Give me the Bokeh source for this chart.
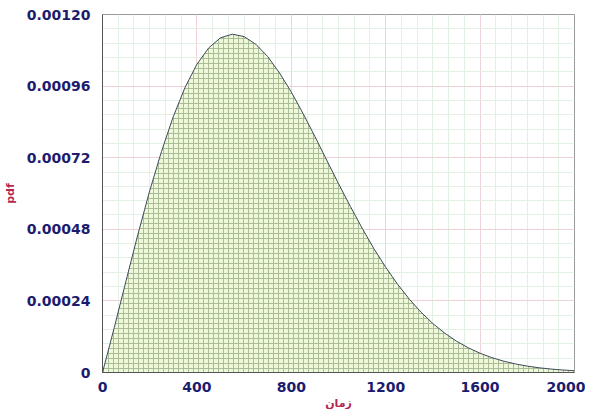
from bokeh.plotting import figure
from bokeh.models import FixedTicker, ColumnDataSource
from bokeh.embed import file_html
from bokeh.resources import INLINE
import numpy as np

# data
time_vals = [0, 50, 100, 150, 200, 250, 300, 350, 400, 450, 500, 550, 600, 650, 700,
             750, 800, 850, 900, 950, 1000, 1050, 1100, 1150, 1200, 1250, 1300, 1350,
             1400, 1450, 1500, 1550, 1600, 1650, 1700, 1750, 1800, 1850, 1900, 1950, 2000]
pdf_vals = [0.0, 0.000151, 0.000308, 0.000463, 0.000609, 0.000741, 0.000858, 0.000956,
            0.001033, 0.001088, 0.001122, 0.001134, 0.001126, 0.001100, 0.001059,
            0.001004, 0.000940, 0.000868, 0.000791, 0.000712, 0.000633, 0.000557,
            0.000484, 0.000415, 0.000353, 0.000296, 0.000246, 0.000202, 0.000164,
            0.000132, 0.000105, 0.0000828, 0.0000645, 0.0000498, 0.0000380, 0.0000287,
            0.0000214, 0.0000158, 0.0000116, 0.0000084, 0.0000060]

x_ticks = [0, 400, 800, 1200, 1600, 2000]
x_tick_labels = ["0", "400", "800", "1200", "1600", "2000"]
y_ticks = [0.0, 0.00024, 0.00048, 0.00072, 0.00096, 0.00120]
y_tick_labels = ["0", "0.00024", "0.00048", "0.00072", "0.00096", "0.00120"]

x_minor = list(np.linspace(0, 2000, 31))
y_minor = list(np.linspace(0, 0.0012, 26))

navy = "#1c1c6e"
red = "#b3284f"

p = figure(frame_width=472, frame_height=358, output_backend="svg", toolbar_location=None,
           x_range=(0, 2000), y_range=(0, 0.0012),
           min_border_left=94, min_border_right=11, min_border_top=14, min_border_bottom=28,
           background_fill_color="white", border_fill_color="white")

p.outline_line_color = "#9a9a9a"
p.outline_line_width = 1

src = ColumnDataSource(dict(x=time_vals, y=pdf_vals))
p.varea(x="x", y1=0, y2="y", source=src, fill_color="#f0f8da",
        hatch_pattern="+", hatch_color="#a9bd98", hatch_scale=5, hatch_weight=1)
p.line(x="x", y="y", source=src, line_color="#3c4a5c", line_width=1)

xt = FixedTicker(ticks=x_ticks, minor_ticks=x_minor)
yt = FixedTicker(ticks=y_ticks, minor_ticks=y_minor)
p.xaxis.ticker = xt
p.yaxis.ticker = yt
p.xgrid.ticker = xt
p.ygrid.ticker = yt
p.xaxis.major_label_overrides = {t: l for t, l in zip(x_ticks, x_tick_labels)}
p.yaxis.major_label_overrides = {t: l for t, l in zip(y_ticks, y_tick_labels)}

for g in (p.xgrid, p.ygrid):
    g.grid_line_color = "#efd2d6"
    g.grid_line_width = 1
    g.minor_grid_line_color = "#e2f1e4"
    g.minor_grid_line_width = 1
    g.level = "underlay"

for ax in (p.xaxis, p.yaxis):
    ax.axis_line_color = "#555555"
    ax.axis_line_width = 1
    ax.major_tick_line_color = None
    ax.minor_tick_line_color = None
    ax.major_label_text_font = "DejaVu Sans"
    ax.major_label_text_font_style = "bold"
    ax.major_label_text_font_size = "14px"
    ax.major_label_text_color = navy
    ax.axis_label_text_font = "DejaVu Sans"
    ax.axis_label_text_font_style = "bold"
    ax.axis_label_text_font_size = "11px"
    ax.axis_label_text_color = red

p.xaxis.axis_label = "زمان"
p.yaxis.axis_label = "pdf"
p.xaxis.major_label_standoff = 3
p.xaxis.axis_label_standoff = 2
p.yaxis.major_label_standoff = 6
p.yaxis.axis_label_standoff = 7

open("out.html", "w").write(file_html(p, INLINE))
